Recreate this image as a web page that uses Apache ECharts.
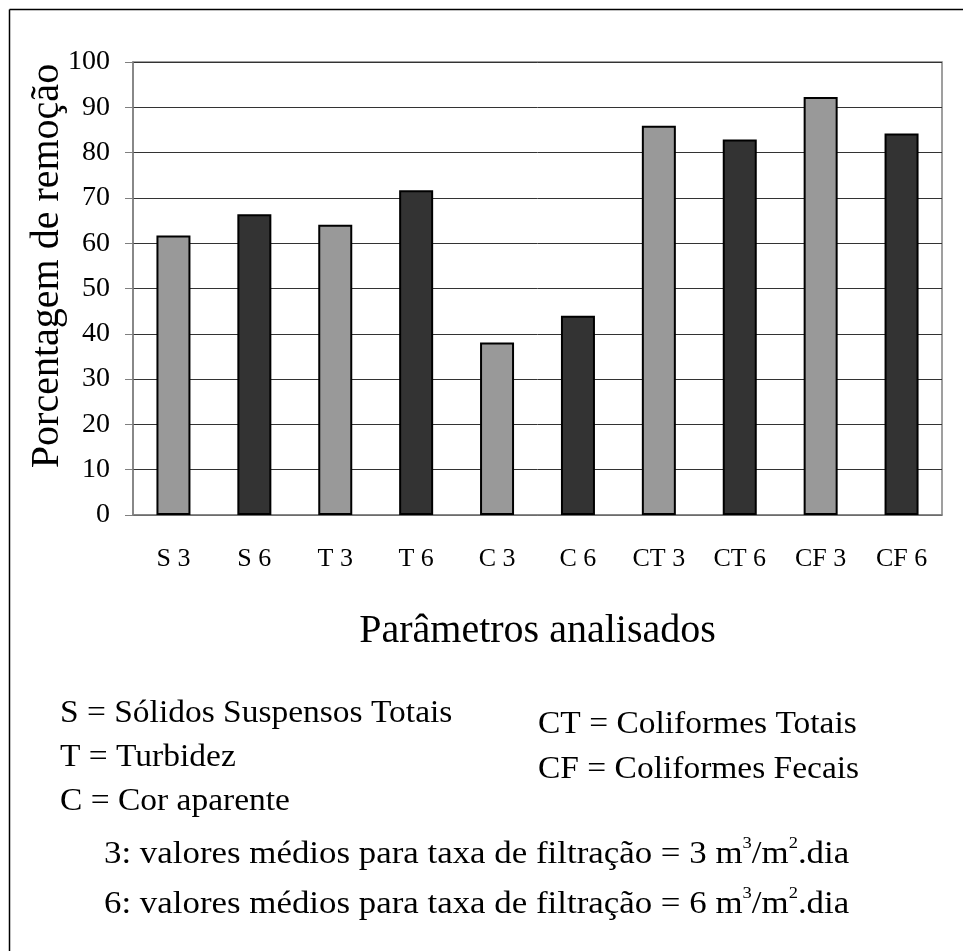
<!DOCTYPE html>
<html>
<head>
<meta charset="utf-8">
<script src="https://cdn.jsdelivr.net/npm/echarts@6/dist/echarts.min.js"></script>
<style>
  html, body { margin: 0; padding: 0; background: #fff; }
  #chart { width: 963px; height: 951px; }
</style>
</head>
<body>
<div id="chart"></div>
<script>
// categorias e valores
var categorias = ['S 3', 'S 6', 'T 3', 'T 6', 'C 3', 'C 6', 'CT 3', 'CT 6', 'CF 3', 'CF 6']
var remocao = [61.7, 66.4, 64.1, 71.7, 38.1, 44.0, 85.9, 82.9, 92.3, 84.2]
var yTicks = { min: 0, max: 100, interval: 10 }

var legendaEsq = ['S = Sólidos Suspensos Totais', 'T = Turbidez', 'C = Cor aparente']
var legendaDir = ['CT = Coliformes Totais', 'CF = Coliformes Fecais']
var taxas = ['3', '6']

var serif = '"Liberation Serif", "Times New Roman", serif'
var chart = echarts.init(document.getElementById('chart'))

function txt(x, y, text, size, sx) {
  return {
    type: 'text', x: x, y: y, scaleX: sx || 1,
    style: { text: text, font: size + 'px ' + serif, fill: '#000', textVerticalAlign: 'middle' }
  }
}

var graphics = [
  // moldura (so topo e esquerda aparecem)
  { type: 'line', shape: { x1: 9.5, y1: 9.5, x2: 963, y2: 9.5 }, style: { stroke: '#000', lineWidth: 1.5 } },
  { type: 'line', shape: { x1: 9.5, y1: 9.5, x2: 9.5, y2: 951 }, style: { stroke: '#000', lineWidth: 1.5 } },
  // titulo do eixo y (um pouco acima do centro da grade, como no original)
  {
    type: 'text', x: 47, y: 266, rotation: Math.PI / 2,
    style: {
      text: 'Porcentagem de remoção', font: '40px ' + serif, fill: '#000',
      textAlign: 'center', textVerticalAlign: 'middle'
    }
  }
]
legendaEsq.forEach(function (t, i) {
  graphics.push(txt(60, 714 + i * 44, t, 31, 1.08))
})
legendaDir.forEach(function (t, i) {
  graphics.push(txt(538, 725 + i * 45, t, 31, 1.08))
})
taxas.forEach(function (t, i) {
  graphics.push({
    type: 'text', x: 104, y: 855 + i * 50, scaleX: 1.09,
    style: {
      text: t + ': valores médios para taxa de filtração = ' + t + ' m{sup|3}/m{sup|2}.dia',
      font: '32px ' + serif, fill: '#000', textVerticalAlign: 'middle',
      rich: { sup: { fontSize: 17, fontFamily: serif, padding: [0, 0, 22, 0] } }
    }
  })
})

chart.setOption({
  animation: false,
  grid: {
    left: 133, right: 21, top: 62, bottom: 436,
    show: true, borderColor: '#808080', borderWidth: 1.5
  },
  xAxis: {
    type: 'category',
    data: categorias,
    name: 'Parâmetros analisados',
    nameLocation: 'middle',
    nameGap: 96,
    nameTextStyle: { fontFamily: serif, fontSize: 40, color: '#000' },
    axisLine: { lineStyle: { color: '#808080', width: 1.5 } },
    axisTick: { length: 7, lineStyle: { color: '#808080' } },
    axisLabel: { fontFamily: serif, fontSize: 26, color: '#000', margin: 31 }
  },
  yAxis: {
    type: 'value',
    min: yTicks.min, max: yTicks.max, interval: yTicks.interval,
    axisLine: { show: true, lineStyle: { color: '#808080', width: 1.5 } },
    axisTick: { show: true, length: 8, lineStyle: { color: '#808080' } },
    axisLabel: { fontFamily: serif, fontSize: 28, color: '#000', margin: 23 },
    splitLine: { lineStyle: { color: '#333', width: 1 } }
  },
  series: [{
    type: 'bar',
    data: remocao,
    barWidth: 34,
    itemStyle: {
      color: function (p) { return p.dataIndex % 2 ? '#333333' : '#999999' },
      borderColor: '#000',
      borderWidth: 2
    }
  }],
  graphic: graphics
})
</script>
</body>
</html>
